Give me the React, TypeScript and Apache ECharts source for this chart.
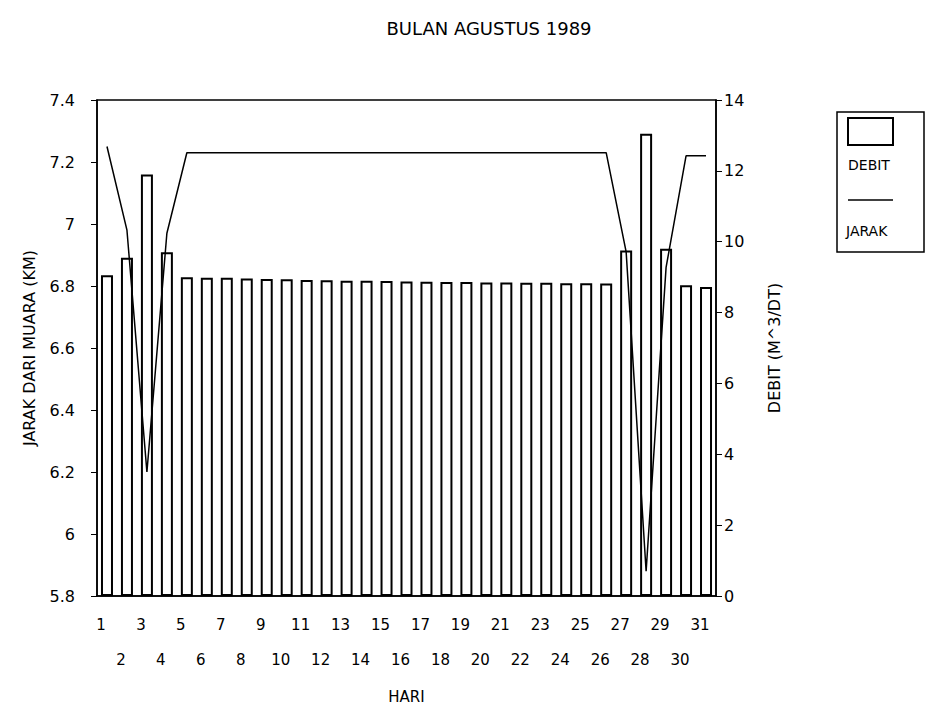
import React, { useEffect, useRef } from 'react';
import * as echarts from 'echarts';

const days = ['1','2','3','4','5','6','7','8','9','10','11','12','13','14','15','16','17','18','19','20','21','22','23','24','25','26','27','28','29','30','31'];
// Debit (M^3/DT) - right axis, bars
const debit = [9.05, 9.55, 11.9, 9.7, 9.0, 8.98, 8.98, 8.96, 8.95, 8.94, 8.92, 8.91, 8.9, 8.9, 8.89, 8.88, 8.87, 8.86, 8.86, 8.85, 8.85, 8.84, 8.84, 8.83, 8.83, 8.82, 9.75, 13.05, 9.8, 8.77, 8.72];
// Jarak dari muara (KM) - left axis, line
const jarak = [7.25, 6.98, 6.2, 6.97, 7.23, 7.23, 7.23, 7.23, 7.23, 7.23, 7.23, 7.23, 7.23, 7.23, 7.23, 7.23, 7.23, 7.23, 7.23, 7.23, 7.23, 7.23, 7.23, 7.23, 7.23, 7.23, 6.91, 5.88, 6.86, 7.22, 7.22];

const FONT = 'DejaVu Sans';

export default function App() {
  const ref = useRef<HTMLDivElement>(null);
  useEffect(() => {
    if (!ref.current) return;
    const chart = echarts.init(ref.current, null, { renderer: 'svg' });
    chart.setOption({
      animation: false,
      backgroundColor: '#fff',
      title: {
        text: 'BULAN AGUSTUS 1989',
        left: 484,
        top: 14,
        textAlign: 'center',
        textStyle: { fontFamily: FONT, fontSize: 18, fontWeight: 'normal', color: '#000' },
      },
      grid: {
        left: 97, right: 209, top: 100, bottom: 118,
        show: true, borderColor: '#000', borderWidth: 1.5, backgroundColor: 'transparent',
      },
      xAxis: {
        type: 'category',
        data: days,
        name: 'HARI',
        nameLocation: 'middle',
        nameGap: 93,
        nameTextStyle: { fontFamily: FONT, fontSize: 15, color: '#000' },
        axisLine: { lineStyle: { color: '#000', width: 1.5 } },
        axisTick: { alignWithLabel: true, length: 5, lineStyle: { color: '#000' } },
        axisLabel: {
          interval: 0,
          margin: 21,
          color: '#000',
          fontFamily: FONT,
          fontSize: 15,
          formatter: (v: string, i: number) => (i % 2 === 0 ? `{a|${v}}` : `{b|${v}}`),
          rich: {
            a: { fontFamily: FONT, fontSize: 15, color: '#000', padding: [0, 12, 0, 0] },
            b: { fontFamily: FONT, fontSize: 15, color: '#000', padding: [35, 12, 0, 0] },
          },
        },
      },
      yAxis: [
        {
          type: 'value',
          min: 5.8,
          max: 7.4,
          interval: 0.2,
          name: 'JARAK DARI MUARA (KM)',
          nameLocation: 'middle',
          nameRotate: 90,
          nameGap: 60,
          nameTextStyle: { fontFamily: FONT, fontSize: 16, color: '#000' },
          axisLine: { show: true, lineStyle: { color: '#000', width: 1.5 } },
          axisTick: { show: true, length: 6, lineStyle: { color: '#000' } },
          splitLine: { show: false },
          axisLabel: {
            color: '#000', fontFamily: FONT, fontSize: 16, margin: 22,
            formatter: (v: number) => String(+v.toFixed(1)),
          },
        },
        {
          type: 'value',
          min: 0,
          max: 14,
          interval: 2,
          position: 'right',
          name: 'DEBIT (M^3/DT)',
          nameLocation: 'middle',
          nameRotate: 90,
          nameGap: 50,
          nameTextStyle: { fontFamily: FONT, fontSize: 16, color: '#000' },
          axisLine: { show: true, lineStyle: { color: '#000', width: 1.5 } },
          axisTick: { show: true, length: 6, lineStyle: { color: '#000' } },
          splitLine: { show: false },
          axisLabel: { color: '#000', fontFamily: FONT, fontSize: 16, margin: 8 },
        },
      ],
      series: [
        {
          name: 'DEBIT',
          type: 'bar',
          yAxisIndex: 1,
          data: debit,
          barWidth: 12,
          itemStyle: { color: '#fff', borderColor: '#000', borderWidth: 2 },
        },
        {
          name: 'JARAK',
          type: 'line',
          yAxisIndex: 0,
          data: jarak,
          showSymbol: false,
          symbol: 'none',
          lineStyle: { color: '#000', width: 1.5 },
          z: 5,
        },
      ],
      graphic: [
        {
          type: 'rect',
          shape: { x: 837, y: 112, width: 87, height: 140 },
          style: { fill: '#fff', stroke: '#000', lineWidth: 1.5 },
        },
        {
          type: 'rect',
          shape: { x: 848, y: 118, width: 45, height: 27 },
          style: { fill: '#fff', stroke: '#000', lineWidth: 2 },
        },
        {
          type: 'text',
          x: 848,
          y: 165,
          style: { text: 'DEBIT', fontFamily: FONT, fontSize: 14, fill: '#000', verticalAlign: 'middle', align: 'left' },
        },
        {
          type: 'line',
          shape: { x1: 848, y1: 200, x2: 893, y2: 200 },
          style: { stroke: '#000', lineWidth: 1.5 },
        },
        {
          type: 'text',
          x: 846,
          y: 231,
          style: { text: 'JARAK', fontFamily: FONT, fontSize: 14, fill: '#000', verticalAlign: 'middle', align: 'left' },
        },
      ],
    });
    return () => chart.dispose();
  }, []);
  return (
    <div
      ref={ref}
      style={{ position: 'fixed', left: 0, top: 0, width: 925, height: 714, background: '#fff' }}
    />
  );
}
